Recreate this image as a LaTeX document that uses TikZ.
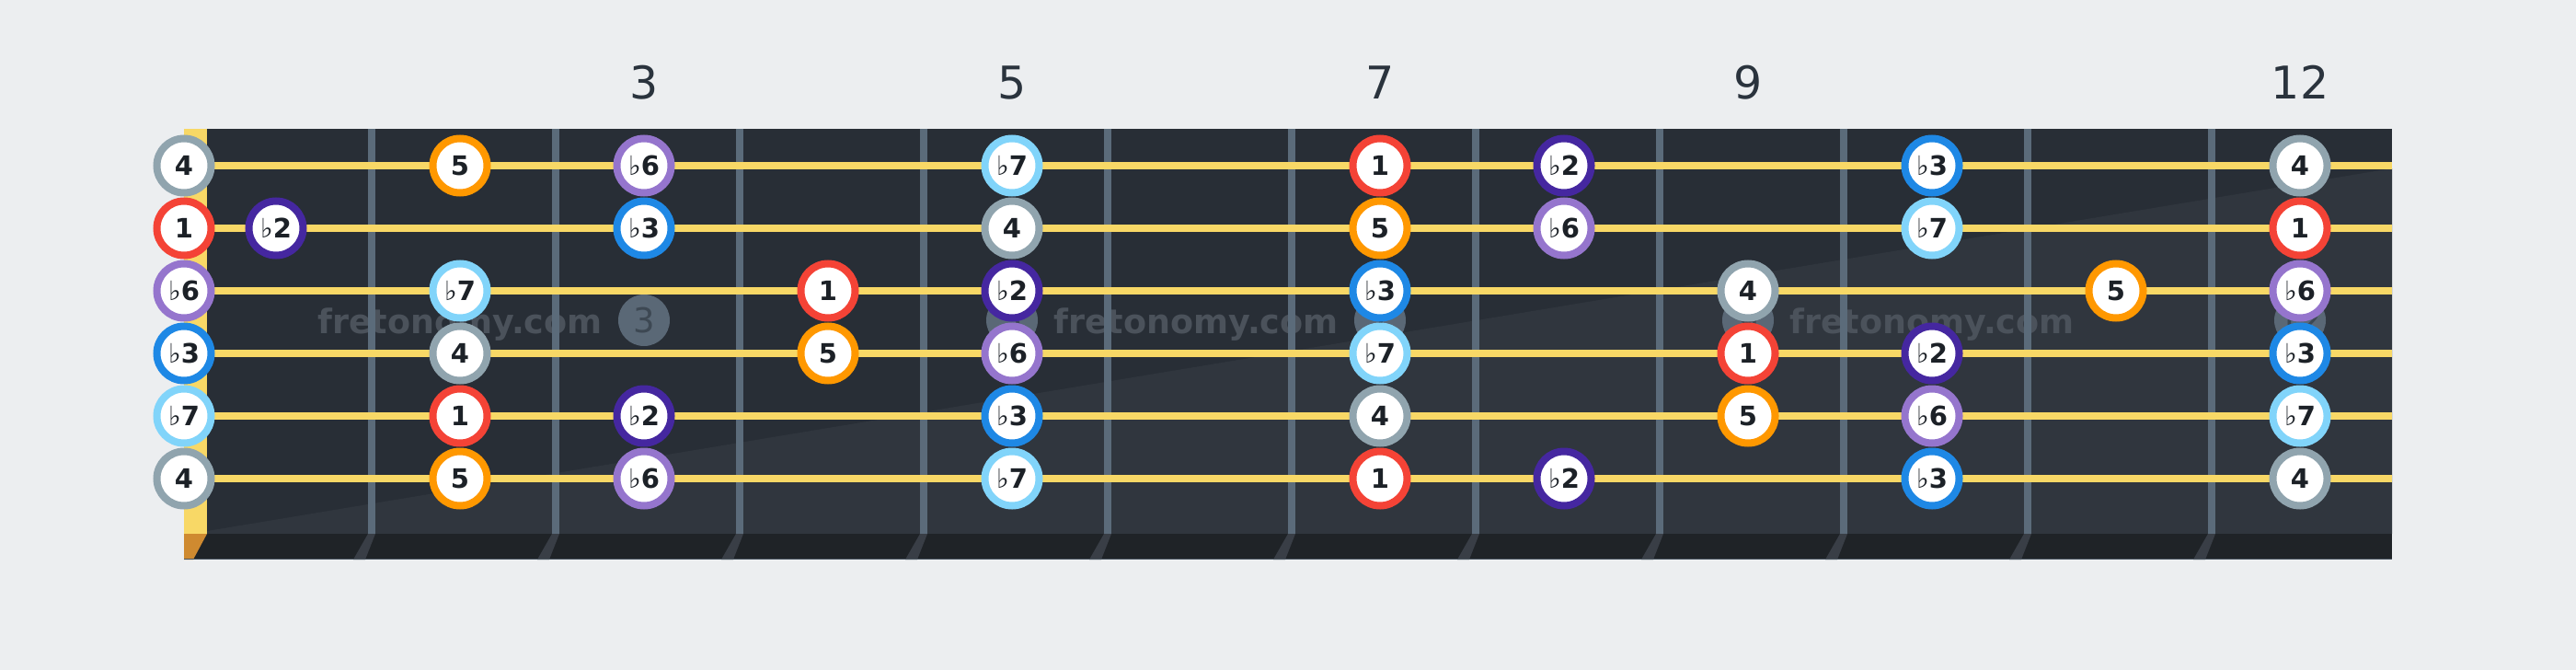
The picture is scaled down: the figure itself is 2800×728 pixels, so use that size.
\documentclass[tikz,border=0pt]{standalone}
\usepackage{fontspec}
\setmainfont{DejaVu Sans}
\definecolor{bg}{HTML}{ECEEF0}
\definecolor{board}{HTML}{282E36}
\definecolor{boardlight}{HTML}{30363E}
\definecolor{fretc}{HTML}{5B6B7A}
\definecolor{stringc}{HTML}{F8D866}
\definecolor{nutc}{HTML}{F8D866}
\definecolor{nutside}{HTML}{CF8A30}
\definecolor{stripc}{HTML}{1F2327}
\definecolor{fretsidec}{HTML}{393E46}
\definecolor{wmc}{HTML}{4B525B}
\definecolor{dotc}{HTML}{5A6876}
\definecolor{dottext}{HTML}{3D4853}
\definecolor{numc}{HTML}{2A333D}
\definecolor{notetext}{HTML}{1C2127}
\definecolor{c1}{HTML}{F44336}
\definecolor{c2}{HTML}{4527A0}
\definecolor{c3}{HTML}{1E88E5}
\definecolor{c4}{HTML}{90A4AE}
\definecolor{c5}{HTML}{FF9800}
\definecolor{c6}{HTML}{9575CD}
\definecolor{c7}{HTML}{81D4FA}
\newcommand\myflat{{\mdseries ♭}}
\expandafter\newcommand\csname lab1\endcsname{1}
\expandafter\newcommand\csname lab2\endcsname{\myflat2}
\expandafter\newcommand\csname lab3\endcsname{\myflat3}
\expandafter\newcommand\csname lab4\endcsname{4}
\expandafter\newcommand\csname lab5\endcsname{5}
\expandafter\newcommand\csname lab6\endcsname{\myflat6}
\expandafter\newcommand\csname lab7\endcsname{\myflat7}
\tikzset{
  note/.style={circle, draw=#1, line width=8pt, fill=white, minimum size=59pt, inner sep=0pt,
    text=notetext, font=\fontsize{29}{29}\selectfont\bfseries, text height=21pt, text depth=0pt},
  inlay/.style={circle, fill=dotc, minimum size=56pt, inner sep=0pt, text=dottext,
    font=\fontsize{37}{37}\selectfont},
  wm/.style={text=wmc, font=\fontsize{36.5}{36.5}\selectfont\bfseries, inner sep=0pt},
  fretnum/.style={text=numc, font=\fontsize{49}{49}\selectfont, inner sep=0pt},
  fretwire/.style={draw=fretc, line width=8pt},
  stringline/.style={draw=stringc, line width=8pt},
}
\begin{document}
\begin{tikzpicture}[x=1pt,y=-1pt]
\fill[bg] (0,0) rectangle (2800,728);
\useasboundingbox (0,0) rectangle (2800,728);
% board
\fill[board] (225,140) rectangle (2600,580);
\fill[boardlight] (225,577) -- (2600,183) -- (2600,580) -- (225,580) -- cycle;
% inlay dots
\foreach \f/\t in {3/3,5/5,7/7,9/9,12/12}
  \node[inlay] (dot\f) at (200*\f+100,348) {\t};
% watermarks
\foreach \x [count=\i] in {500,1300,2100}
  \node[wm, anchor=base] (wm\i) at (\x,362) {fretonomy.com};
% fret wires
\foreach \x [count=\i] in {404,604,...,2404} {
  \coordinate (ft\i) at (\x,140);
  \coordinate (fb\i) at (\x,580);
  \draw[fretwire] (ft\i) -- (fb\i);
}
% nut
\fill[nutc] (200,140) rectangle (225,580);
% bottom strip
\fill[stripc] (200,580) rectangle (2600,608);
\fill[nutside] (200,580) -- (225,580) -- (210,608) -- (200,608) -- cycle;
\foreach \x in {404,604,...,2404}
  \fill[fretsidec] (\x-4,580) -- (\x+4,580) -- (\x-7,608) -- (\x-20,608) -- cycle;
\draw[line width=1.5pt, draw=fretc!70!stripc] (200,607.5) -- (2600,607.5);
% strings
\foreach \s in {1,...,6} {
  \coordinate (sl\s) at (200,112+68*\s);
  \coordinate (sr\s) at (2600,112+68*\s);
  \draw[stringline] (sl\s) -- (sr\s);
}
% notes
\foreach \s/\f/\d in {
  1/0/4, 1/2/5, 1/3/6, 1/5/7, 1/7/1, 1/8/2, 1/10/3, 1/12/4,
  2/0/1, 2/1/2, 2/3/3, 2/5/4, 2/7/5, 2/8/6, 2/10/7, 2/12/1,
  3/0/6, 3/2/7, 3/4/1, 3/5/2, 3/7/3, 3/9/4, 3/11/5, 3/12/6,
  4/0/3, 4/2/4, 4/4/5, 4/5/6, 4/7/7, 4/9/1, 4/10/2, 4/12/3,
  5/0/7, 5/2/1, 5/3/2, 5/5/3, 5/7/4, 5/9/5, 5/10/6, 5/12/7,
  6/0/4, 6/2/5, 6/3/6, 6/5/7, 6/7/1, 6/8/2, 6/10/3, 6/12/4}
  \node[note=c\d] (n\s-\f) at ({ifthenelse(\f==0,200,200*\f+100)},{112+68*\s}) {\csname lab\d\endcsname};
% fret numbers
\foreach \f in {3,5,7,9,12}
  \node[fretnum, anchor=base] (fn\f) at (200*\f+100,107.5) {\f};
\end{tikzpicture}
\end{document}
